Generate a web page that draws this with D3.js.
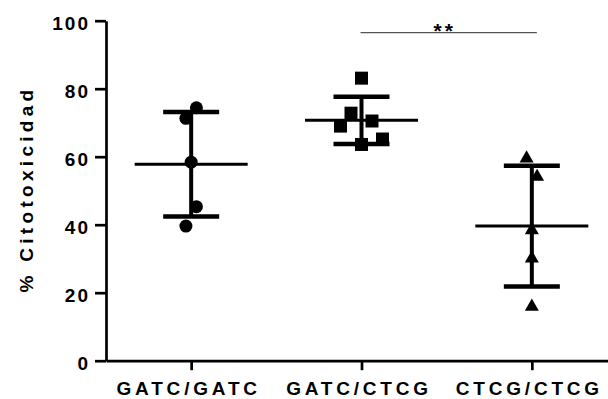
<!DOCTYPE html>
<html>
<head>
<meta charset="utf-8">
<script src="https://d3js.org/d3.v7.min.js"></script>
<style>
  body { margin: 0; background: white; }
  svg { display: block; font-family: "Liberation Sans", Arial, sans-serif; font-weight: bold; }
  .axis path, .axis line { stroke: black; stroke-width: 2.7px; }
  .axis text { fill: black; font-size: 19px; font-weight: bold; font-family: "Liberation Sans", Arial, sans-serif; }
</style>
</head>
<body>
<svg id="chart"></svg>
<script>
// data
const groups = ["GATC/GATC", "GATC/CTCG", "CTCG/CTCG"];
const gatcGatc = [58.4, 71.3, 74.4, 39.6, 45.3];
const gatcCtcg = [83.1, 69.0, 72.8, 63.6, 70.5, 65.2];
const ctcgCtcg = [59.5, 54.1, 38.4, 30.1, 15.9];
const yTicks = [0, 20, 40, 60, 80, 100];
const yTitle = "% Citotoxicidad";
const sigLabel = "**";

const series = [gatcGatc, gatcCtcg, ctcgCtcg];
const symbols = [d3.symbolCircle, d3.symbolSquare, d3.symbolTriangle];
const symbolSizes = [133, 169, 85];

const width = 608, height = 399;
const svg = d3.select("#chart").attr("width", width).attr("height", height);

const x = d3.scalePoint().domain(groups).range([106, 617]).padding(0.5);
const y = d3.scaleLinear().domain([0, 100]).range([360.7, 20.7]);

// y axis
const yAxis = svg.append("g")
  .attr("class", "axis")
  .attr("transform", "translate(106,0)")
  .call(d3.axisLeft(y).tickValues(yTicks).tickSize(11).tickSizeOuter(0).tickPadding(5));
yAxis.selectAll("text").attr("dy", "0.48em").style("letter-spacing", "2px");

// x axis
const xAxis = svg.append("g")
  .attr("class", "axis")
  .attr("transform", "translate(0,360.7)")
  .call(d3.axisBottom(x).tickSize(9.5).tickSizeOuter(0));
xAxis.selectAll("text").attr("x", -3).attr("y", 21).attr("dy", "0.71em").style("letter-spacing", "3.8px");

// y title
svg.append("text")
  .attr("transform", "rotate(-90)")
  .attr("x", -189)
  .attr("y", 33)
  .attr("text-anchor", "middle")
  .style("font-size", "19px")
  .style("letter-spacing", "4.3px")
  .text(yTitle);

// spread points that sit close together into columns (like Prism)
function dodge(values, gap, step) {
  const pts = values.map((v, i) => ({ v: v, i: i, py: y(v), dx: 0 }));
  const sorted = pts.slice().sort((a, b) => a.py - b.py);
  const clusters = [];
  let cur = [sorted[0]];
  for (let k = 1; k < sorted.length; k++) {
    if (sorted[k].py - sorted[k - 1].py < gap) cur.push(sorted[k]);
    else { clusters.push(cur); cur = [sorted[k]]; }
  }
  clusters.push(cur);
  clusters.forEach(c => {
    c.sort((a, b) => a.i - b.i);
    c.forEach((p, j) => { p.dx = (j - (c.length - 1) / 2) * step; });
  });
  return pts;
}

const meanHalf = 56.5, capHalf = 28;

series.forEach((vals, gi) => {
  const cx = x(groups[gi]);
  const g = svg.append("g");
  const pts = dodge(vals, 24, 10.5);

  g.selectAll("path.pt")
    .data(pts)
    .enter()
    .append("path")
    .attr("class", "pt")
    .attr("d", d3.symbol().type(symbols[gi]).size(symbolSizes[gi]))
    .attr("transform", d => "translate(" + (cx + d.dx) + "," + d.py + ")")
    .attr("fill", "black");

  const m = d3.mean(vals), sd = d3.deviation(vals);

  g.append("line")
    .attr("x1", cx).attr("x2", cx)
    .attr("y1", y(m + sd)).attr("y2", y(m - sd))
    .attr("stroke", "black").attr("stroke-width", 4);

  [m + sd, m - sd].forEach(v => {
    g.append("line")
      .attr("x1", cx - capHalf).attr("x2", cx + capHalf)
      .attr("y1", y(v)).attr("y2", y(v))
      .attr("stroke", "black").attr("stroke-width", 4.5);
  });

  g.append("line")
    .attr("x1", cx - meanHalf).attr("x2", cx + meanHalf)
    .attr("y1", y(m)).attr("y2", y(m))
    .attr("stroke", "black").attr("stroke-width", 3);
});

// significance bracket
const sigY = y(96.5);
svg.append("line")
  .attr("x1", x(groups[1]) - 1).attr("x2", x(groups[2]) + 5)
  .attr("y1", sigY).attr("y2", sigY)
  .attr("stroke", "#555").attr("stroke-width", 1.3);

svg.append("text")
  .attr("x", (x(groups[1]) + x(groups[2])) / 2 - 2)
  .attr("y", 38)
  .attr("text-anchor", "middle")
  .style("font-size", "21px")
  .style("letter-spacing", "3px")
  .text(sigLabel);
</script>
</body>
</html>
